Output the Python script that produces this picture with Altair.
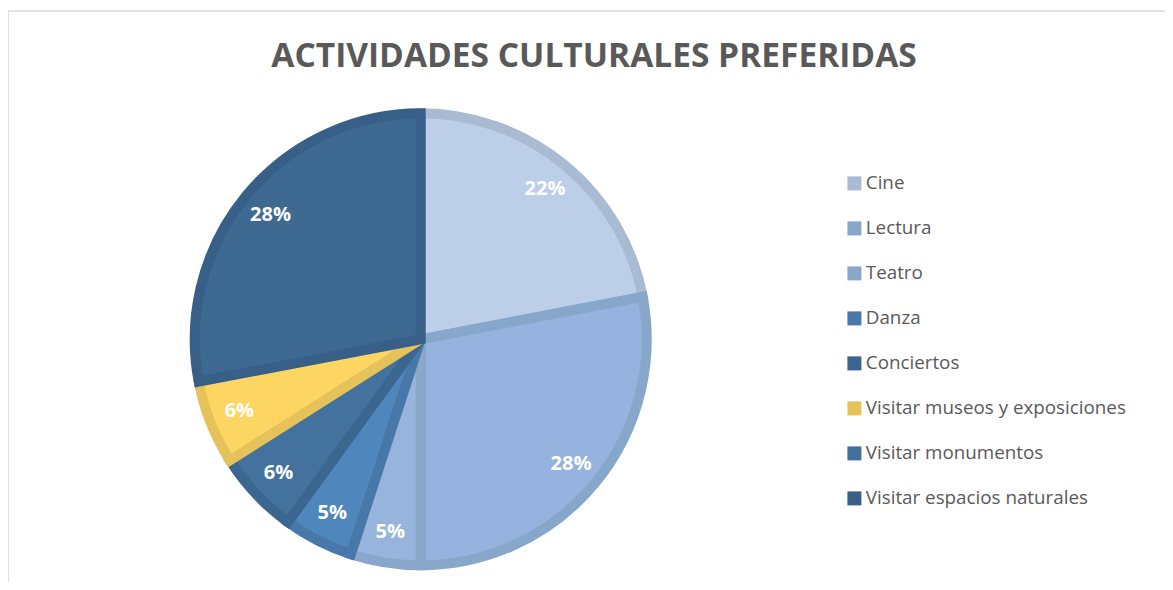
import altair as alt
import pandas as pd

categories = ["Cine", "Lectura", "Teatro", "Danza", "Conciertos",
              "Visitar museos y exposiciones", "Visitar monumentos",
              "Visitar espacios naturales"]
values = [22, 28, 5, 5, 6, 6, 0, 28]
labels = ["22%", "28%", "5%", "5%", "6%", "6%", "", "28%"]
fill_colors = ["#BDCEE8", "#95B3DE", "#97B4DD", "#4F86BC", "#43729F",
               "#FDD563", "#43739F", "#3E6A92"]
border_colors = ["#A8BBD3", "#86A6CA", "#88A7CB", "#4878A9", "#3B6690",
                 "#E6C25A", "#41709C", "#375F87"]
title_text = "ACTIVIDADES CULTURALES PREFERIDAS"

df = pd.DataFrame({"cat": categories, "value": values, "label": labels,
                   "idx": list(range(len(categories)))})

W, H = 1157, 574
CX, CY = 412.7, 331.3
R = 226

base = alt.Chart(df).encode(
    theta=alt.Theta("value:Q", stack=True),
    order=alt.Order("idx:Q", sort="ascending"),
    x=alt.value(CX), y=alt.value(CY),
)

arcs = base.mark_arc(outerRadius=R, strokeJoin="miter").encode(
    fill=alt.Fill("cat:N",
                  scale=alt.Scale(domain=categories, range=fill_colors),
                  sort=categories,
                  legend=alt.Legend(title=None, orient="none",
                                    legendX=837, legendY=166,
                                    symbolType="square", symbolSize=49,
                                    symbolStrokeWidth=7,
                                    labelFont="Open Sans", labelFontSize=18.8,
                                    labelColor="#595959", labelOffset=2,
                                    rowPadding=9, labelLimit=400)),
    stroke=alt.Stroke("cat:N",
                      scale=alt.Scale(domain=categories, range=border_colors),
                      sort=categories),
    strokeWidth=alt.condition("datum.value > 0", alt.value(10), alt.value(0)),
)

texts = base.mark_text(radius=195, font="Open Sans", fontSize=20,
                       fontWeight="bold", color="white").encode(
    text="label:N"
)

title = alt.Chart(pd.DataFrame({"t": [title_text]})).mark_text(
    font="Open Sans", fontSize=33.5, fontWeight="bold", color="#595959",
    align="center", baseline="alphabetic"
).encode(text="t:N", x=alt.value(586), y=alt.value(59))

frame_top = alt.Chart(pd.DataFrame({"a": [0]})).mark_rule(
    color="#D9D9D9", strokeWidth=1.5
).encode(x=alt.value(0), x2=alt.value(W), y=alt.value(3))
frame_left = alt.Chart(pd.DataFrame({"a": [0]})).mark_rule(
    color="#D9D9D9", strokeWidth=1.5
).encode(x=alt.value(0), y=alt.value(3), y2=alt.value(H))

chart = alt.layer(frame_top, frame_left, arcs, texts, title).properties(
    width=W, height=H,
    autosize=alt.AutoSizeParams(type="none"),
    padding=0,
).configure_view(stroke=None)

chart.save("out.html", embed_options={"renderer": "svg", "actions": False})
